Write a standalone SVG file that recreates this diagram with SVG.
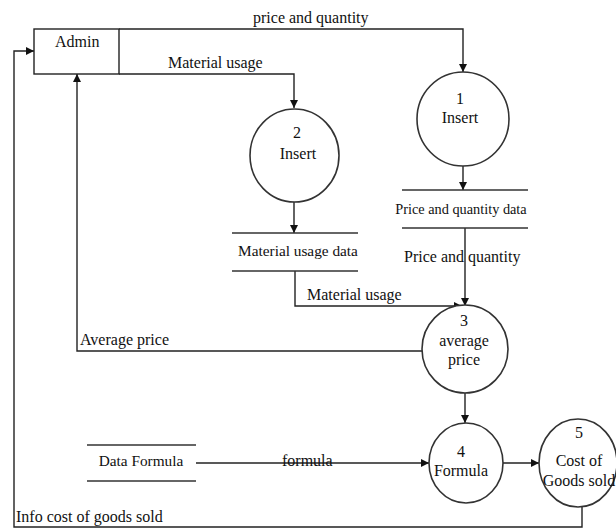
<svg xmlns="http://www.w3.org/2000/svg" width="616" height="529" viewBox="0 0 616 529">
<style>
text{font-family:"Liberation Serif","Times New Roman",serif;font-size:16px;fill:#111}
.st{font-size:15.3px}
.st2{font-size:14.3px}
.c{text-anchor:middle}
.proc{fill:#fff;stroke:#333;stroke-width:1.6}
.store{stroke:#333;stroke-width:1.6}
.flow{fill:none;stroke:#222;stroke-width:1.4}
</style>
<defs>
<marker id="ah" viewBox="0 0 10 10" refX="10" refY="5" markerWidth="8" markerHeight="8" markerUnits="userSpaceOnUse" orient="auto">
<path d="M0,0 L10,5 L0,10 Z" fill="#111"/>
</marker>
</defs>
<g id="connectors">
<path class="flow" d="M119,29 H463 V72" marker-end="url(#ah)"/>
<path class="flow" d="M119,74 H294 V108" marker-end="url(#ah)"/>
<path class="flow" d="M463,166 V190" marker-end="url(#ah)"/>
<path class="flow" d="M294,202 V233" marker-end="url(#ah)"/>
<path class="flow" d="M465,228 V306" marker-end="url(#ah)"/>
<path class="flow" d="M295,271 V306 H462" marker-end="url(#ah)"/>
<path class="flow" d="M422,351 H77 V74" marker-end="url(#ah)"/>
<path class="flow" d="M465,393 V423" marker-end="url(#ah)"/>
<path class="flow" d="M196,463 H429" marker-end="url(#ah)"/>
<path class="flow" d="M503,463 H539" marker-end="url(#ah)"/>
<path class="flow" d="M582,507 V527 H14 V51 H34" marker-end="url(#ah)"/>
<text x="253" y="23">price and quantity</text>
<text x="168" y="68">Material usage</text>
<text x="404" y="262">Price and quantity</text>
<text x="307" y="300">Material usage</text>
<text x="80" y="345">Average price</text>
<text x="282" y="466">formula</text>
<text x="16" y="522">Info cost of goods sold</text>
</g>
<g id="admin">
<rect x="34" y="29" width="85" height="45" fill="#fff" stroke="#222" stroke-width="1.4"/>
<text x="55" y="47">Admin</text>
</g>
<g id="p1">
<ellipse class="proc" cx="463" cy="119" rx="46" ry="47"/>
<text class="c" x="460" y="104">1</text>
<text class="c" x="460" y="123">Insert</text>
</g>
<g id="p2">
<ellipse class="proc" cx="294.5" cy="155.5" rx="44.5" ry="46.5"/>
<text class="c" x="297" y="138">2</text>
<text class="c" x="298" y="159">Insert</text>
</g>
<g id="ds1">
<line class="store" x1="402" y1="190" x2="528" y2="190"/>
<line class="store" x1="402" y1="228" x2="528" y2="228"/>
<text class="st2 c" x="461" y="214">Price and quantity data</text>
</g>
<g id="ds2">
<line class="store" x1="232" y1="233" x2="358" y2="233"/>
<line class="store" x1="232" y1="271" x2="358" y2="271"/>
<text class="st c" x="298" y="256">Material usage data</text>
</g>
<g id="p3">
<ellipse class="proc" cx="465" cy="349" rx="43" ry="44"/>
<text class="c" x="464" y="326">3</text>
<text class="c" x="464" y="346">average</text>
<text class="c" x="464" y="365">price</text>
</g>
<g id="ds3">
<line class="store" x1="87" y1="445" x2="196" y2="445"/>
<line class="store" x1="87" y1="481" x2="196" y2="481"/>
<text class="st c" x="141" y="466">Data Formula</text>
</g>
<g id="p4">
<ellipse class="proc" cx="466" cy="463" rx="37" ry="40"/>
<text class="c" x="461" y="457">4</text>
<text class="c" x="461" y="476">Formula</text>
</g>
<g id="p5">
<ellipse class="proc" cx="578" cy="463" rx="39" ry="44"/>
<text class="c" x="579" y="438">5</text>
<text class="c" x="579" y="466">Cost of</text>
<text class="c" x="579" y="486">Goods sold</text>
</g>
</svg>
